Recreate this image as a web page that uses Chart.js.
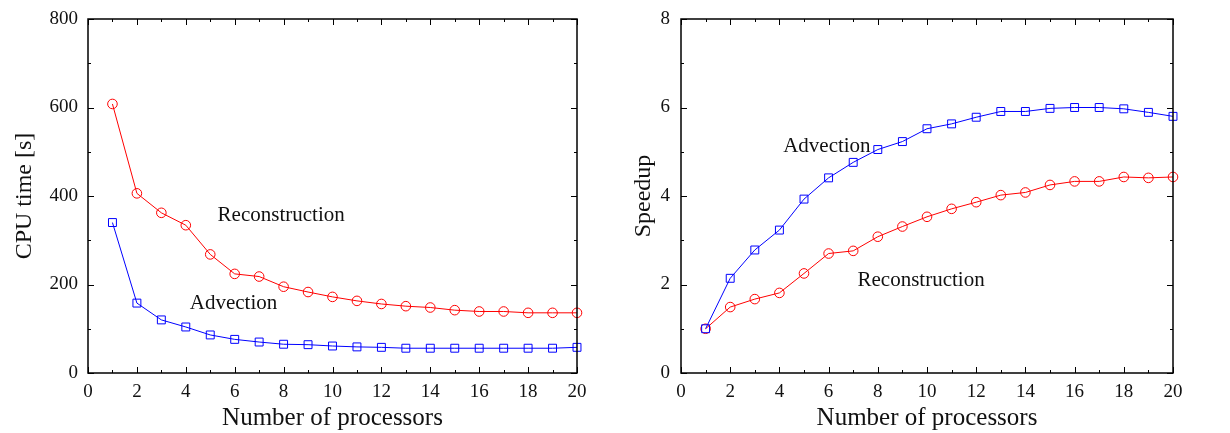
<!DOCTYPE html>
<html>
<head>
<meta charset="utf-8">
<script src="https://cdn.jsdelivr.net/npm/chart.js@4/dist/chart.umd.min.js"></script>
<style>
  body { margin: 0; background: #fff; }
  .wrap { position: absolute; top: 0; width: 615px; height: 433px; }
  #left { left: 0; }
  #right { left: 615px; }
</style>
</head>
<body>
<div class="wrap" id="left"><canvas id="cpuChart"></canvas></div>
<div class="wrap" id="right"><canvas id="speedChart"></canvas></div>
<script>
const processors = [1, 2, 3, 4, 5, 6, 7, 8, 9, 10, 11, 12, 13, 14, 15, 16, 17, 18, 19, 20];

// CPU time [s]
const cpuReconstruction = [608, 406, 362, 334, 268, 224, 218, 195, 183, 172, 163, 156, 151, 148, 142, 139, 139, 136, 136, 136];
const cpuAdvection = [340, 158, 120, 104, 86, 76, 70, 65, 64, 61, 59, 58, 56, 56, 56, 56, 56, 56, 56, 58];

// Speedup
const speedAdvection = [1.0, 2.14, 2.78, 3.23, 3.93, 4.41, 4.76, 5.05, 5.23, 5.52, 5.63, 5.78, 5.91, 5.91, 5.98, 6.0, 6.0, 5.97, 5.89, 5.80];
const speedReconstruction = [1.0, 1.49, 1.67, 1.81, 2.25, 2.70, 2.76, 3.08, 3.31, 3.53, 3.71, 3.86, 4.02, 4.08, 4.25, 4.33, 4.33, 4.43, 4.41, 4.43];

const serif = '"Liberation Serif", "DejaVu Serif", serif';
const RED = 'rgb(255,0,0)';
const BLUE = 'rgb(0,0,255)';

function pairs(xs, ys) {
    return xs.map((x, i) => ({ x: x, y: ys[i] }));
}

// frame around the plot area with inward ticks on all four sides
const framePlugin = {
    id: 'frame',
    afterDraw(chart, args, opts) {
        const c = chart.ctx;
        const a = chart.chartArea;
        const xs = chart.scales.x;
        const ys = chart.scales.y;
        c.save();
        c.strokeStyle = '#000';
        c.lineWidth = 1;
        c.beginPath();
        for (let v = xs.min; v <= xs.max; v += 1) {
            const px = Math.round(xs.getPixelForValue(v)) + 0.5;
            const len = v % 2 === 0 ? 6 : 3;
            c.moveTo(px, a.bottom); c.lineTo(px, a.bottom - len);
            c.moveTo(px, a.top); c.lineTo(px, a.top + len);
        }
        for (let v = ys.min; v <= ys.max + 1e-9; v += opts.minor) {
            const py = Math.round(ys.getPixelForValue(v)) + 0.5;
            const major = Math.abs(v / opts.major - Math.round(v / opts.major)) < 1e-6;
            const len = major ? 6 : 3;
            c.moveTo(a.left, py); c.lineTo(a.left + len, py);
            c.moveTo(a.right, py); c.lineTo(a.right - len, py);
        }
        c.stroke();
        c.lineWidth = 1.5;
        c.strokeRect(a.left, a.top, a.right - a.left, a.bottom - a.top);
        c.restore();
    }
};

// text labels placed in data coordinates
const notesPlugin = {
    id: 'notes',
    afterDatasetsDraw(chart, args, opts) {
        const c = chart.ctx;
        c.save();
        c.fillStyle = '#111';
        c.font = '21px ' + serif;
        c.textAlign = 'center';
        c.textBaseline = 'middle';
        opts.items.forEach(n => {
            c.fillText(n.text, chart.scales.x.getPixelForValue(n.x), chart.scales.y.getPixelForValue(n.y));
        });
        c.restore();
    }
};

function series(label, data, color, style) {
    return {
        label: label,
        data: data,
        borderColor: color,
        backgroundColor: 'transparent',
        borderWidth: 1,
        pointStyle: style,
        pointRadius: style === 'rect' ? 5.6 : 4.8,
        pointBorderWidth: 1,
        pointBorderColor: color,
        pointBackgroundColor: 'transparent',
        tension: 0,
        clip: false
    };
}

function createChart(el, cfg) {
    return new Chart(document.getElementById(el), {
        type: 'line',
        data: { datasets: cfg.datasets },
        options: {
            responsive: true,
            maintainAspectRatio: false,
            animation: false,
            events: [],
            layout: { padding: { top: 19, right: cfg.padRight, left: 0, bottom: 0 } },
            plugins: {
                legend: { display: false },
                tooltip: { enabled: false },
                frame: { minor: cfg.minor, major: cfg.major },
                notes: { items: cfg.notes }
            },
            scales: {
                x: {
                    type: 'linear',
                    min: 0,
                    max: 20,
                    grid: { display: false, drawTicks: false },
                    border: { display: false },
                    ticks: { stepSize: 2, color: '#111', padding: 8, maxRotation: 0, font: { family: serif, size: 19 } },
                    title: {
                        display: true,
                        text: 'Number of processors',
                        color: '#111',
                        font: { family: serif, size: 25 },
                        padding: { top: 0, bottom: 0 }
                    },
                    afterFit: s => { s.height = 60; }
                },
                y: {
                    type: 'linear',
                    min: 0,
                    max: cfg.yMax,
                    grid: { display: false, drawTicks: false },
                    border: { display: false },
                    ticks: { stepSize: cfg.major, color: '#111', padding: cfg.tickPad, font: { family: serif, size: 19 } },
                    title: {
                        display: true,
                        text: cfg.yTitle,
                        color: '#111',
                        font: { family: serif, size: 24 },
                        padding: { top: cfg.titlePad, bottom: 0 }
                    },
                    afterFit: s => {
                        s.width = cfg.yWidth;
                        // the outer padding already leaves room for the top label
                        s.paddingTop = 0;
                        s.paddingBottom = 0;
                    }
                }
            }
        },
        plugins: [framePlugin, notesPlugin]
    });
}

createChart('cpuChart', {
    datasets: [
        series('Reconstruction', pairs(processors, cpuReconstruction), RED, 'circle'),
        series('Advection', pairs(processors, cpuAdvection), BLUE, 'rect')
    ],
    yMax: 800, major: 200, minor: 100,
    yTitle: 'CPU time [s]',
    yWidth: 88, tickPad: 10, titlePad: 10, padRight: 38,
    notes: [
        { text: 'Reconstruction', x: 7.9, y: 355 },
        { text: 'Advection', x: 5.95, y: 156 }
    ]
});

createChart('speedChart', {
    datasets: [
        series('Advection', pairs(processors, speedAdvection), BLUE, 'rect'),
        series('Reconstruction', pairs(processors, speedReconstruction), RED, 'circle')
    ],
    yMax: 8, major: 2, minor: 1,
    yTitle: 'Speedup',
    yWidth: 66, tickPad: 11, titlePad: 14, padRight: 57,
    notes: [
        { text: 'Advection', x: 5.93, y: 5.13 },
        { text: 'Reconstruction', x: 9.76, y: 2.10 }
    ]
});
</script>
</body>
</html>
